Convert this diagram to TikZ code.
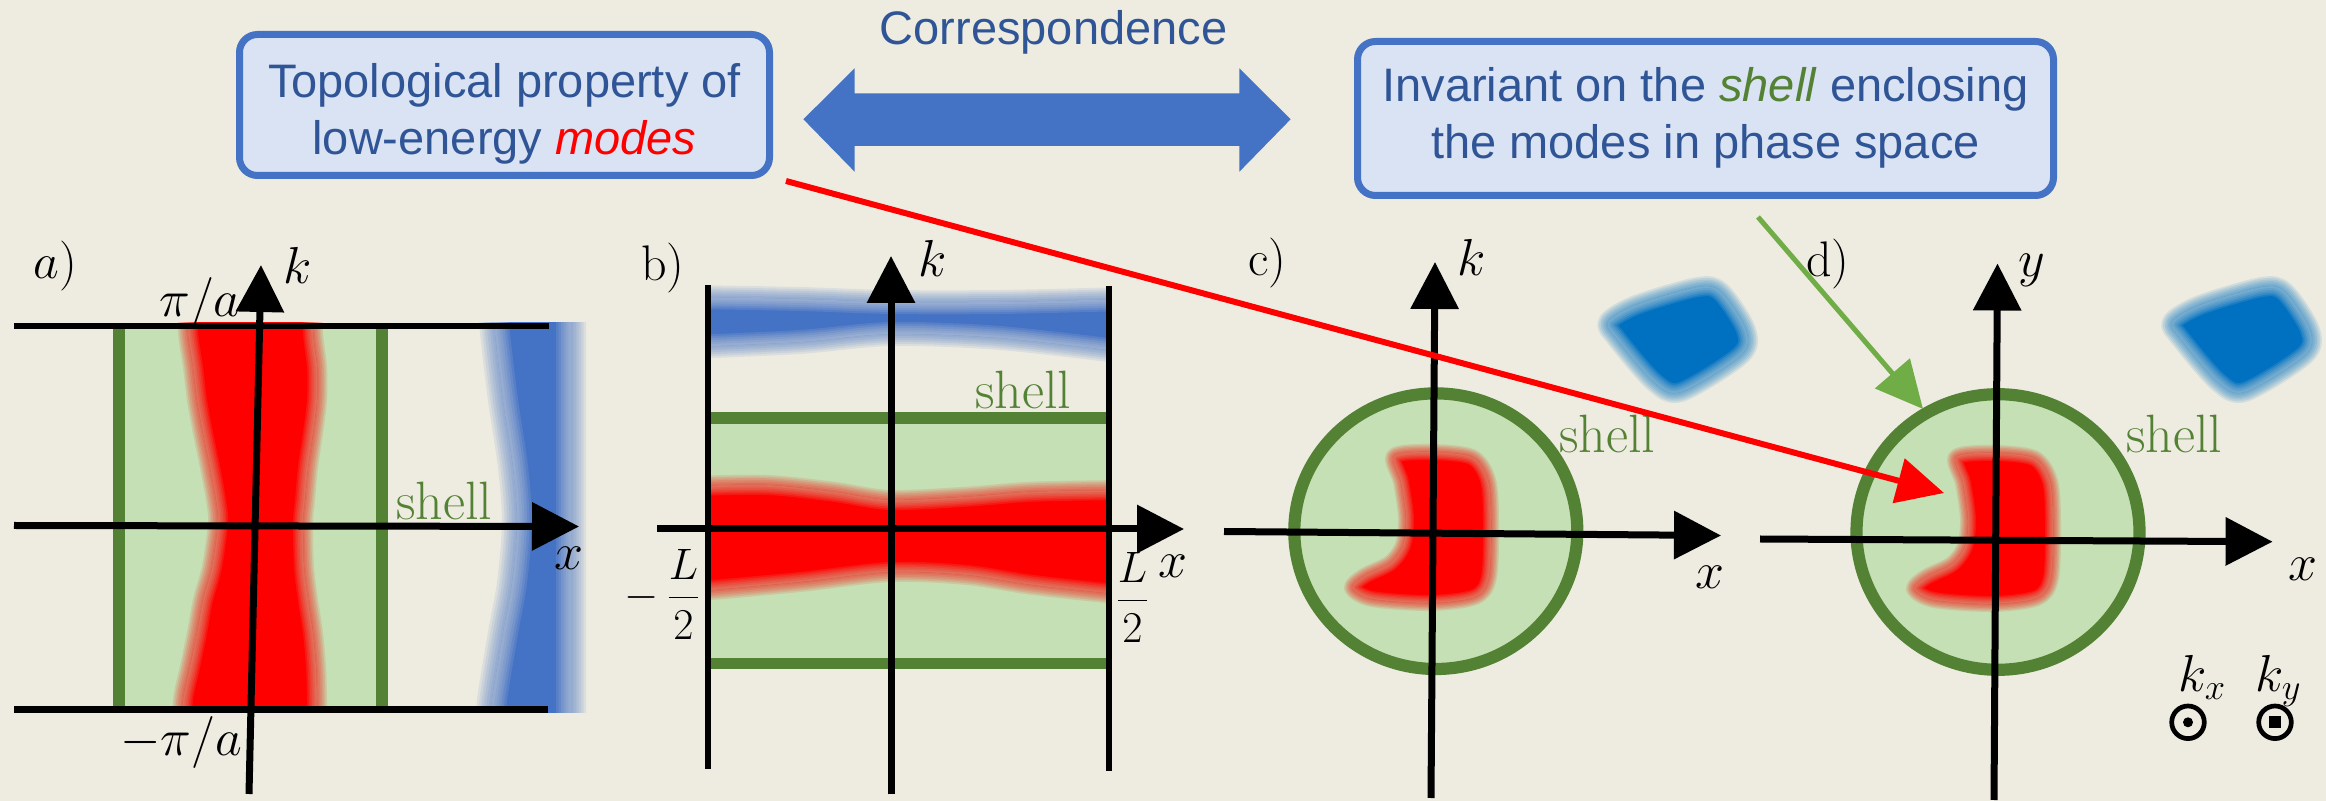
\RequirePackage{fix-cm}
\documentclass[tikz,border=0pt]{standalone}
\usepackage{fontspec}
\newfontfamily\boxfont{Liberation Sans}
\usetikzlibrary{arrows.meta}
\definecolor{bgc}{HTML}{EEECE1}
\definecolor{lgreen}{HTML}{C5E0B4}
\definecolor{dgreen}{HTML}{548235}
\definecolor{agreen}{HTML}{70AD47}
\definecolor{boxfill}{HTML}{DAE3F3}
\definecolor{boxline}{HTML}{4472C4}
\definecolor{boxtext}{HTML}{2F5597}
\definecolor{bandblue}{HTML}{4472C4}
\definecolor{blobblue}{HTML}{0070C0}
\definecolor{mred}{HTML}{FF0000}
% #1 colour, #2 colour underneath, #3 blur width (pt), #4 path (50% contour)
\newcommand{\softshape}[4]{%
  \foreach \k in {1,...,6}{\pgfmathsetmacro{\w}{#3*\k/6}%
    \draw[#1,line width=\w pt,opacity=0.11,line join=round] #4;}%
  \fill[#1] #4;%
  \begin{scope}
    \clip #4;
    \foreach \k in {1,...,6}{\pgfmathsetmacro{\w}{#3*\k/6}%
      \draw[#2,line width=\w pt,opacity=0.11,line join=round] #4;}%
  \end{scope}}
\begin{document}
\begin{tikzpicture}[x=0.5pt,y=-0.5pt,
  axisarr/.style={line width=3.5pt,-{Triangle[length=23.5pt,width=23.5pt]}},
  blk/.style={line width=3.4pt},
  shellbar/.style={draw=dgreen,line width=5.8pt},
  ring/.style={draw=dgreen,line width=6.1pt},
  topbox/.style={draw=boxline,line width=3.5pt,fill=boxfill,rounded corners=9pt,inner sep=0pt},
  boxtxt/.style={text=boxtext,font=\boxfont\fontsize{23.5}{28.5}\selectfont,align=center,inner sep=0pt},
  mlbl/.style={font=\fontsize{26}{30}\selectfont,inner sep=0pt,anchor=base west},
  flbl/.style={font=\fontsize{22}{26}\selectfont,inner sep=0pt},
  slbl/.style={text=dgreen,font=\fontsize{27}{30}\selectfont,inner sep=0pt,anchor=base west},
  plbl/.style={font=\fontsize{25}{28}\selectfont,inner sep=0pt,anchor=base west},
  conn/.style={line width=3pt,-{Triangle[length=23.5pt,width=22.5pt]}},
  symring/.style={circle,draw,line width=2.35pt,minimum size=16.3pt,inner sep=0pt},
]
\useasboundingbox (0,0) rectangle (2326,801);
\fill[bgc] (0,0) rectangle (2326,801);

% ---------- top boxes ----------
\node[topbox,minimum width=265pt,minimum height=70.5pt] (box1) at (504.5,105) {};
\node[boxtxt] (t1) at (504.5,114.3) {Topological property of\\low-energy \textcolor{mred}{\textit{modes}}};
\node[topbox,minimum width=348pt,minimum height=77pt] (box2) at (1705.5,118.5) {};
\node[boxtxt] (t2) at (1705.5,118.3) {Invariant on the \textcolor{dgreen}{\textit{shell}} enclosing\\the modes in phase space};
\node[boxtxt,anchor=base] (corrtxt) at (1053.5,45) {Correspondence};
\fill[boxline] (803.4,119.3) -- (854.6,68.3) -- (854.6,93.3) -- (1239.4,93.3) -- (1239.4,68.3)
  -- (1290.6,119.3) -- (1239.4,171.7) -- (1239.4,146) -- (854.6,146) -- (854.6,171.7) -- cycle;

% ---------- panel a ----------
\fill[lgreen] (119,323) rectangle (382,708);
\begin{scope}
  \clip (0,322.5) rectangle (600,708);
  \softshape{mred}{lgreen}{10}{plot[smooth] coordinates {(186,290) (188,333) (193,367) (197,400) (203,433) (210,467) (216,500) (218,523) (212,567) (203,600) (197,633) (190,667) (183,700) (182,740)} -- plot[smooth] coordinates {(317,740) (317,700) (316,667) (313,633) (308,600) (304,567) (303,523) (305,500) (308,467) (313,433) (317,400) (317,367) (313,333) (313,290)} -- cycle}
\end{scope}
\begin{scope}
  \clip (0,322.7) rectangle (600,712.7);
  \softshape{bandblue}{bgc}{15}{plot[smooth] coordinates {(492,290) (495,333) (503,400) (513,467) (517,523) (512,583) (503,633) (492,700) (489,740)} -- (571,740) -- (571,290) -- cycle}
\end{scope}
\draw[shellbar] (119.2,322.7) -- (119.2,707.3);
\draw[shellbar] (381.7,322.7) -- (381.7,707.3);
\draw[blk] (14,326) -- (549,326);
\draw[blk] (14,709.3) -- (548,709.3);
\draw[axisarr] (14,525.5) -- (579,526.5);
\draw[axisarr] (249,794) -- (261,265);
\node[mlbl,font=\fontsize{25}{28}\selectfont] (la) at (33,279) {$a)$};
\node[mlbl] (ka) at (283,284) {$k$};
\node[mlbl] (pia) at (159,317) {$\pi/a$};
\node[mlbl] (mpia) at (120,756) {$-\pi/a$};
\node[mlbl] (xa) at (554,570) {$x$};
\node[slbl] (sha) at (396,520) {shell};

% ---------- panel b ----------
\fill[lgreen] (711,418) rectangle (1106,664);
\begin{scope}
  \clip (711,250) rectangle (1106,700);
  \softshape{bandblue}{bgc}{12}{plot[smooth] coordinates {(690,297) (800,299) (891,302) (1000,302) (1125,299)} -- plot[smooth] coordinates {(1125,352) (1000,338) (891,334) (800,342) (690,347)} -- cycle}
  \softshape{mred}{lgreen}{10}{plot[smooth] coordinates {(690,486) (767,485) (833,491.7) (890,500) (967,496.7) (1033,491.7) (1125,490)} -- plot[smooth] coordinates {(1125,595) (1033,585) (967,575) (890,572) (800,582) (690,592)} -- cycle}
\end{scope}
\draw[shellbar] (711,418.3) -- (1106,418.3);
\draw[shellbar] (711,663.5) -- (1106,663.5);
\draw[blk] (708,285) -- (708,769);
\draw[blk] (1109,286) -- (1109,771.5);
\draw[axisarr] (891,794.5) -- (891,256);
\draw[axisarr] (657,529) -- (1184,529);
\node[plbl] (lb) at (641,281) {b)};
\node[mlbl] (kb) at (918,277) {$k$};
\node[mlbl] (xb) at (1158,578) {$x$};
\node[slbl] (shb) at (975,409) {shell};
\node[flbl,anchor=east] (mLb) at (701,594) {$-\mkern3mu\displaystyle\frac{L}{2}$};
\node[flbl,anchor=center] (pLb) at (1132.5,597) {$\displaystyle\frac{L}{2}$};

% ---------- panel c ----------
\fill[lgreen] (1435.8,531.2) ellipse [x radius=70.75pt,y radius=68.9pt];
\softshape{mred}{lgreen}{8}{plot[smooth cycle] coordinates {(1394,456) (1430,452) (1472,457) (1488,480) (1491,520) (1489,577) (1475,597) (1430,603) (1372,599) (1352,588) (1364,576) (1390,563) (1403,545) (1406,518) (1401,482)}}
\draw[ring] (1435.8,531.2) ellipse [x radius=70.75pt,y radius=68.9pt];
\begin{scope}[shift={(-564,0)}]
  \softshape{blobblue}{bgc}{10}{plot[smooth cycle] coordinates {(2172,322) (2200,305) (2262,287) (2285,292) (2310,330) (2305,355) (2245,392) (2218,382) (2180,338)}}
\end{scope}
\draw[axisarr] (1431,798) -- (1435,262);
\draw[axisarr] (1224,531.5) -- (1721,535.5);
\node[plbl] (lc) at (1248,276) {c)};
\node[mlbl] (kc) at (1457,276) {$k$};
\node[mlbl] (xc) at (1695,589) {$x$};
\node[slbl] (shc) at (1559,452.5) {shell};

% ---------- panel d ----------
\fill[lgreen] (1998,532) ellipse [x radius=70.75pt,y radius=68.9pt];
\begin{scope}[shift={(562,1)}]
  \softshape{mred}{lgreen}{8}{plot[smooth cycle] coordinates {(1394,456) (1430,452) (1472,457) (1488,480) (1491,520) (1489,577) (1475,597) (1430,603) (1372,599) (1352,588) (1364,576) (1390,563) (1403,545) (1406,518) (1401,482)}}
\end{scope}
\draw[ring] (1998,532) ellipse [x radius=70.75pt,y radius=68.9pt];
\softshape{blobblue}{bgc}{10}{plot[smooth cycle] coordinates {(2172,322) (2200,305) (2262,287) (2285,292) (2310,330) (2305,355) (2245,392) (2218,382) (2180,338)}}
\draw[axisarr] (1994,800) -- (1997.5,263.5);
\draw[axisarr] (1760,539) -- (2272.6,541.7);
\node[plbl] (ld) at (1806,277) {d)};
\node[mlbl] (yd) at (2018,277) {$y$};
\node[mlbl] (xd) at (2288,581) {$x$};
\node[slbl] (shd) at (2126,453) {shell};
\node[mlbl] (kx) at (2178,692) {$k_x$};
\node[mlbl] (ky) at (2255,692) {$k_y$};
\node[symring] (kxs) at (2188,722.3) {};
\fill (kxs.center) circle [radius=2.5pt];
\node[symring] (kys) at (2275,722.3) {};
\fill ([shift={(-5.85,-5.85)}]kys.center) rectangle ([shift={(5.85,5.85)}]kys.center);

% ---------- connectors ----------
\coordinate (rtip) at (1944,493);
\coordinate (gtip) at (1923,409);
\draw[conn,agreen,line width=2.5pt] ([shift={(52.5,18)}]box2.south) -- (gtip);
\draw[conn,mred] ([shift={(13,2)}]box1.south east) -- (rtip);
\end{tikzpicture}
\end{document}
